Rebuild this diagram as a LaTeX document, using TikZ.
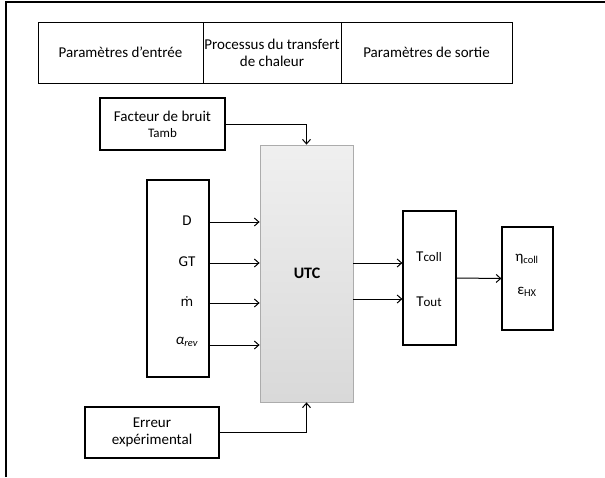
\documentclass[tikz,border=0pt]{standalone}
\usepackage{fontspec}
\setmainfont{Carlito}
\newfontfamily\dvfont{DejaVu Sans}
\usetikzlibrary{arrows.meta,calc}
\begin{document}
\begin{tikzpicture}[x=1pt,y=-1pt,
  box/.style={draw=black,line width=1.2pt,fill=white,inner sep=0pt,align=center,font=\fontsize{15}{17}\selectfont},
  hdr/.style={box,line width=1pt,minimum height=61pt},
  arr/.style={line width=1pt,-{Straight Barb[length=4.5pt,width=8pt]}},
  lbl/.style={inner sep=1pt,font=\fontsize{15}{17}\selectfont}]
\useasboundingbox (0,0) rectangle (605,477);
\draw[line width=1.8pt] (6,477) -- (6,2) -- (605,2);
% header table
\node[hdr,minimum width=165pt] (h1) at (120.5,52.5) {Paramètres d’entrée};
\node[hdr,minimum width=138pt] (h2) at (272,52.5) {Processus du transfert\\de chaleur};
\node[hdr,minimum width=171pt] (h3) at (426.5,52.5) {Paramètres de sortie};
% boxes
\node[box,minimum width=125pt,minimum height=52pt] (fact) at (162.5,124) {Facteur de bruit\\[-1pt]{\fontsize{13}{15}\selectfont Tamb}};
\node[box,minimum width=62pt,minimum height=197pt] (inp) at (178,278.5) {};
\node[draw=gray!65,line width=0.8pt,top color=gray!12,bottom color=gray!30,minimum width=93pt,minimum height=257pt,inner sep=0pt] (utc) at (306.5,273.5) {};
\node[font=\bfseries\fontsize{16}{18}\selectfont] (utcl) at (307,273) {UTC};
\node[box,minimum width=53pt,minimum height=134pt] (out) at (429.5,278) {};
\node[box,minimum width=51pt,minimum height=103pt] (eff) at (527.5,278.5) {};
\node[box,minimum width=134pt,minimum height=51pt] (err) at (152,432.5) {Erreur\\expérimental};
% input labels
\node[lbl] (lD) at (187,221) {D};
\node[lbl] (lGT) at (187,262) {GT};
\node[lbl] (lm) at (187,302) {{\dvfont\fontsize{13}{15}\selectfont ṁ}};
\node[lbl] (la) at (187,342) {\textit{α}\textsubscript{\textit{rev}}};
\coordinate (cD) at (0,222);
\coordinate (cGT) at (0,263);
\coordinate (cm) at (0,303);
\coordinate (ca) at (0,345);
% output labels
\node[lbl] (lTc) at (429,257) {T{\fontsize{13}{15}\selectfont coll}};
\node[lbl] (lTo) at (429,302) {T{\fontsize{13}{15}\selectfont out}};
\node[lbl] (leta) at (527,259) {η\textsubscript{coll}};
\node[lbl] (leps) at (527,292) {ε\textsubscript{HX}};
\coordinate (co1) at (0,263);
\coordinate (co2) at (0,299);
% connectors
\draw[arr] (fact.east) -| (utc.north);
\draw[arr] (err.east) -| (utc.south);
\draw[arr] (cD -| inp.east) -- (cD -| utc.west);
\draw[arr] (cGT -| inp.east) -- (cGT -| utc.west);
\draw[arr] (cm -| inp.east) -- (cm -| utc.west);
\draw[arr] (ca -| inp.east) -- (ca -| utc.west);
\draw[arr] (co1 -| utc.east) -- (co1 -| out.west);
\draw[arr] (co2 -| utc.east) -- (co2 -| out.west);
\draw[arr] (out.east) -- (eff.west);
\end{tikzpicture}
\end{document}
